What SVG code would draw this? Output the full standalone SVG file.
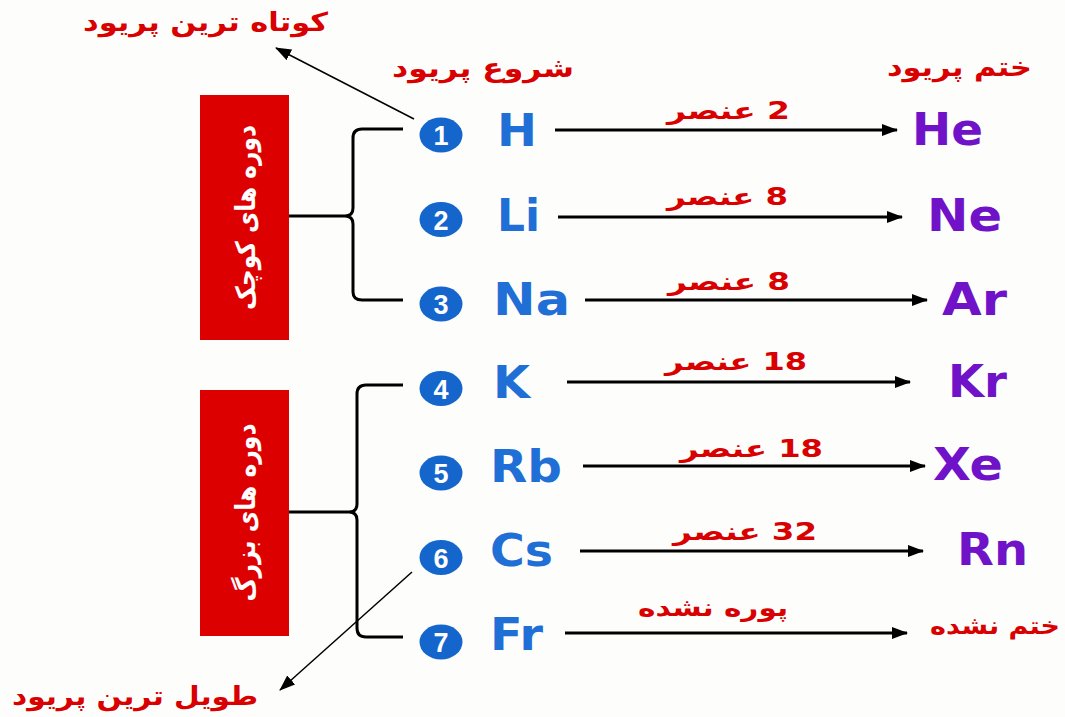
<svg xmlns="http://www.w3.org/2000/svg" width="1065" height="717" viewBox="0 0 1065 717">
<defs>
<marker id="ah" markerWidth="16" markerHeight="12" refX="15" refY="6" orient="auto" markerUnits="userSpaceOnUse"><path d="M0,0 L16,6 L0,12 Z" fill="#000"/></marker>
<marker id="ahs" markerWidth="16" markerHeight="12" refX="15" refY="6" orient="auto" markerUnits="userSpaceOnUse"><path d="M0,0 L16,6 L0,12 Z" fill="#000"/></marker>
<style>
.fa{font-family:"DejaVu Sans",sans-serif;font-weight:bold;fill:#d80000;direction:rtl;unicode-bidi:embed;text-anchor:middle}
.box{fill:#dd0000}
.bt{font-family:"DejaVu Sans",sans-serif;font-weight:bold;fill:#fff;font-size:27px;direction:rtl;unicode-bidi:embed;text-anchor:middle}
.badge{fill:#1466cc}
.num{font-family:"Liberation Sans",Arial,sans-serif;font-weight:bold;fill:#fff;font-size:27px;text-anchor:middle}
.el{font-family:"DejaVu Sans",sans-serif;font-weight:bold;font-size:44px;fill:#1f6fd6}
.end{font-family:"DejaVu Sans",sans-serif;font-weight:bold;font-size:44px;fill:#7012c8}
.arr{stroke:#000;stroke-width:3;fill:none}
.thin{stroke:#000;stroke-width:1.5;fill:none}
.brace{stroke:#000;stroke-width:3;fill:none}
.lbl{font-size:24px}
.top{font-size:26px}
</style>
</defs>
<rect width="1065" height="717" fill="#fdfdfb"/>

<g id="top-labels">
<text class="fa top" x="205.5" y="31" textLength="245" lengthAdjust="spacingAndGlyphs">کوتاه ترین پریود</text>
<text class="fa top" x="483" y="77" textLength="182" lengthAdjust="spacingAndGlyphs">شروع پریود</text>
<text class="fa top" x="959.5" y="76" textLength="145" lengthAdjust="spacingAndGlyphs">ختم پریود</text>
<text class="fa top" x="135" y="705" textLength="246" lengthAdjust="spacingAndGlyphs">طویل ترین پریود</text>
</g>

<g id="box-small">
<rect class="box" x="200" y="95" width="89" height="245"/>
<text class="bt" transform="translate(244.5,217.5) rotate(-90)" x="0" y="10" textLength="185" lengthAdjust="spacingAndGlyphs">دوره های کوچک</text>
</g>
<g id="box-large">
<rect class="box" x="200" y="390" width="89" height="246"/>
<text class="bt" transform="translate(244.5,512.5) rotate(-90)" x="0" y="10" textLength="178" lengthAdjust="spacingAndGlyphs">دوره های بزرگ</text>
</g>

<g id="connectors">
<path class="brace" d="M403,129 L362,129 Q353,129 353,138 L353,208 Q353,216 345,216 Q353,216 353,224 L353,292 Q353,300 362,300 L403,300"/>
<path class="brace" d="M289,216 L345,216"/>
<path class="brace" d="M403,385 L366,385 Q357,385 357,394 L357,504 Q357,512 349,512 Q357,512 357,520 L357,628 Q357,637 366,637 L403,637"/>
<path class="brace" d="M289,512 L349,512"/>
<line class="thin" x1="414" y1="119" x2="276" y2="48" marker-end="url(#ahs)"/>
<line class="thin" x1="412" y1="572" x2="280" y2="690" marker-end="url(#ahs)"/>
<line class="arr" x1="555" y1="130" x2="897" y2="130" marker-end="url(#ah)"/>
<line class="arr" x1="558" y1="217" x2="902" y2="217" marker-end="url(#ah)"/>
<line class="arr" x1="585" y1="300" x2="927" y2="300" marker-end="url(#ah)"/>
<line class="arr" x1="567" y1="382" x2="910" y2="382" marker-end="url(#ah)"/>
<line class="arr" x1="583" y1="466" x2="925" y2="466" marker-end="url(#ah)"/>
<line class="arr" x1="580" y1="551" x2="923" y2="551" marker-end="url(#ah)"/>
<line class="arr" x1="565" y1="633" x2="907" y2="633" marker-end="url(#ah)"/>
<text class="fa lbl" x="728.5" y="119" textLength="123" lengthAdjust="spacingAndGlyphs">2 عنصر</text>
<text class="fa lbl" x="727.5" y="205" textLength="121" lengthAdjust="spacingAndGlyphs">8 عنصر</text>
<text class="fa lbl" x="729" y="290" textLength="122" lengthAdjust="spacingAndGlyphs">8 عنصر</text>
<text class="fa lbl" x="736" y="370" textLength="142" lengthAdjust="spacingAndGlyphs">18 عنصر</text>
<text class="fa lbl" x="751.5" y="457" textLength="143" lengthAdjust="spacingAndGlyphs">18 عنصر</text>
<text class="fa lbl" x="745" y="540" textLength="144" lengthAdjust="spacingAndGlyphs">32 عنصر</text>
<text class="fa lbl" x="713" y="616" textLength="150" lengthAdjust="spacingAndGlyphs">پوره نشده</text>
</g>

<g id="row1"><ellipse class="badge" cx="441" cy="135" rx="21.5" ry="17.5"/><text class="num" x="441" y="145">1</text><text class="el" x="497" y="146" textLength="40" lengthAdjust="spacingAndGlyphs">H</text><text class="end" x="912" y="145" textLength="71" lengthAdjust="spacingAndGlyphs">He</text></g>
<g id="row2"><ellipse class="badge" cx="441" cy="219.5" rx="21.5" ry="17.5"/><text class="num" x="441" y="229.5">2</text><text class="el" x="497" y="231" textLength="43" lengthAdjust="spacingAndGlyphs">Li</text><text class="end" x="927" y="231" textLength="75" lengthAdjust="spacingAndGlyphs">Ne</text></g>
<g id="row3"><ellipse class="badge" cx="441" cy="304" rx="21.5" ry="17.5"/><text class="num" x="441" y="314">3</text><text class="el" x="493" y="315" textLength="77" lengthAdjust="spacingAndGlyphs">Na</text><text class="end" x="942" y="315" textLength="65" lengthAdjust="spacingAndGlyphs">Ar</text></g>
<g id="row4"><ellipse class="badge" cx="441" cy="388.5" rx="21.5" ry="17.5"/><text class="num" x="441" y="398.5">4</text><text class="el" x="493" y="398" textLength="37" lengthAdjust="spacingAndGlyphs">K</text><text class="end" x="948" y="397" textLength="59" lengthAdjust="spacingAndGlyphs">Kr</text></g>
<g id="row5"><ellipse class="badge" cx="441" cy="473" rx="21.5" ry="17.5"/><text class="num" x="441" y="483">5</text><text class="el" x="490" y="482" textLength="72" lengthAdjust="spacingAndGlyphs">Rb</text><text class="end" x="933" y="480" textLength="70" lengthAdjust="spacingAndGlyphs">Xe</text></g>
<g id="row6"><ellipse class="badge" cx="441" cy="557.5" rx="21.5" ry="17.5"/><text class="num" x="441" y="567.5">6</text><text class="el" x="490" y="566" textLength="63" lengthAdjust="spacingAndGlyphs">Cs</text><text class="end" x="957" y="565" textLength="71" lengthAdjust="spacingAndGlyphs">Rn</text></g>
<g id="row7"><ellipse class="badge" cx="441" cy="642" rx="21.5" ry="17.5"/><text class="num" x="441" y="652">7</text><text class="el" x="490" y="650" textLength="53" lengthAdjust="spacingAndGlyphs">Fr</text><text class="fa lbl" x="995" y="634" textLength="130" lengthAdjust="spacingAndGlyphs">ختم نشده</text></g>
</svg>
